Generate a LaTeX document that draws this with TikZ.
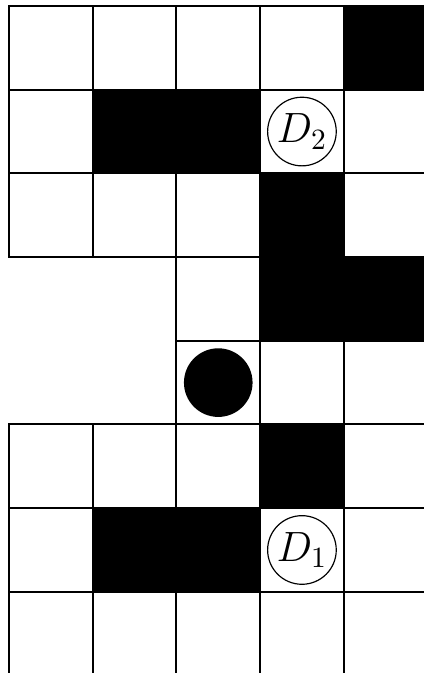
\documentclass[tikz,border=0pt]{standalone}
\begin{document}
\begin{tikzpicture}[line width=.7pt]
\useasboundingbox (-.108,.03) rectangle (4.952,8.072);
\foreach \r in {0,1,2,5,6,7} \foreach \c in {0,...,4} \draw (\c,7-\r) rectangle ++(1,1);
\foreach \r in {3,4} \foreach \c in {2,3,4} \draw (\c,7-\r) rectangle ++(1,1);
\foreach \c/\r in {4/0,1/1,2/1,3/2,3/3,4/3,3/5,1/6,2/6} \fill (\c,7-\r) rectangle ++(1,1);
\node[circle,fill,minimum size=.82cm,inner sep=0pt] (ball) at (2.5,3.5) {};
\node[draw,circle,line width=.4pt,minimum size=.82cm,inner sep=0pt] (D2) at (3.5,6.5) {\Large$D_2$};
\node[draw,circle,line width=.4pt,minimum size=.82cm,inner sep=0pt] (D1) at (3.5,1.5) {\Large$D_1$};
\end{tikzpicture}
\end{document}
